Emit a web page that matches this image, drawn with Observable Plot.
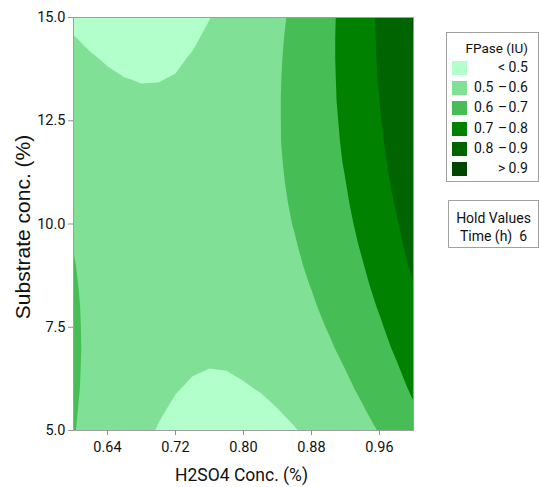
<!DOCTYPE html>
<html>
<head>
<meta charset="utf-8">
<script src="https://cdn.jsdelivr.net/npm/d3@7"></script>
<script src="https://cdn.jsdelivr.net/npm/@observablehq/plot@0.6"></script>
<style>
  body { margin: 0; background: #fff; font-family: Roboto, sans-serif; color: #111; }
  #wrap { position: relative; width: 539px; height: 487px; overflow: hidden; }
  #chart { position: absolute; left: 0; top: 0; }
  .box { position: absolute; border: 1px solid #a0a0a0; box-sizing: border-box; background: #fff; font-size: 14px; line-height: 1; }
  .box span { position: absolute; white-space: nowrap; }
  .sw { position: absolute; width: 15px; height: 14px; }
</style>
</head>
<body>
<div id="wrap"><div id="chart"></div></div>
<script>
// ---- data ----
const xLabel = "H2SO4 Conc. (%)";
const yLabel = "Substrate conc. (%)";
const xTicks = [0.64, 0.72, 0.80, 0.88, 0.96];
const yTicks = [5.0, 7.5, 10.0, 12.5, 15.0];
// sample positions of the surface grid
const xSamples = [0.60,0.62,0.64,0.66,0.68,0.70,0.72,0.74,0.76,0.78,0.80,0.82,0.84,0.86,0.88,0.90,0.92,0.94,0.96,0.98,1.00];
const ySamples = [5,5.5,6,6.5,7,7.5,8,8.5,9,9.5,10,10.5,11,11.5,12,12.5,13,13.5,14,14.5,15];
// FPase (IU) surface, one row per ySample (bottom to top), one value per xSample
const fpase = [
  [0.604,0.576,0.552,0.530,0.512,0.497,0.486,0.477,0.472,0.471,0.472,0.477,0.486,0.497,0.512,0.530,0.552,0.576,0.604,0.636,0.670],
  [0.607,0.580,0.556,0.536,0.519,0.505,0.494,0.487,0.483,0.482,0.484,0.490,0.499,0.512,0.528,0.547,0.569,0.595,0.624,0.656,0.691],
  [0.610,0.583,0.560,0.541,0.524,0.511,0.502,0.495,0.492,0.492,0.496,0.502,0.512,0.526,0.542,0.562,0.586,0.612,0.642,0.675,0.712],
  [0.611,0.585,0.563,0.545,0.529,0.517,0.508,0.503,0.500,0.501,0.506,0.513,0.524,0.539,0.556,0.577,0.601,0.629,0.659,0.693,0.731],
  [0.611,0.587,0.565,0.548,0.533,0.522,0.514,0.509,0.508,0.510,0.515,0.524,0.535,0.551,0.569,0.591,0.616,0.644,0.676,0.711,0.749],
  [0.610,0.587,0.567,0.550,0.536,0.526,0.519,0.515,0.514,0.517,0.523,0.533,0.546,0.562,0.581,0.604,0.630,0.659,0.691,0.727,0.766],
  [0.609,0.586,0.567,0.551,0.538,0.529,0.522,0.520,0.520,0.524,0.531,0.541,0.555,0.572,0.592,0.616,0.642,0.673,0.706,0.743,0.783],
  [0.606,0.585,0.566,0.551,0.539,0.531,0.525,0.523,0.525,0.529,0.537,0.549,0.563,0.581,0.602,0.627,0.654,0.685,0.720,0.757,0.798],
  [0.603,0.582,0.564,0.550,0.539,0.532,0.527,0.526,0.528,0.534,0.543,0.555,0.570,0.589,0.611,0.637,0.665,0.697,0.732,0.771,0.813],
  [0.598,0.578,0.562,0.548,0.538,0.532,0.528,0.528,0.531,0.538,0.547,0.560,0.577,0.596,0.619,0.646,0.675,0.708,0.744,0.784,0.826],
  [0.593,0.574,0.558,0.546,0.537,0.531,0.528,0.529,0.533,0.540,0.551,0.565,0.582,0.603,0.627,0.654,0.684,0.718,0.755,0.795,0.839],
  [0.587,0.569,0.554,0.542,0.534,0.529,0.527,0.529,0.534,0.542,0.554,0.569,0.587,0.608,0.633,0.661,0.692,0.727,0.765,0.806,0.851],
  [0.579,0.562,0.548,0.538,0.530,0.526,0.525,0.528,0.534,0.543,0.555,0.571,0.590,0.613,0.638,0.667,0.699,0.735,0.774,0.816,0.861],
  [0.571,0.555,0.542,0.532,0.526,0.523,0.523,0.526,0.533,0.543,0.556,0.573,0.593,0.616,0.643,0.673,0.706,0.742,0.782,0.825,0.871],
  [0.562,0.547,0.535,0.526,0.520,0.518,0.519,0.523,0.531,0.542,0.556,0.574,0.595,0.619,0.646,0.677,0.711,0.748,0.789,0.833,0.880],
  [0.552,0.538,0.526,0.518,0.514,0.512,0.514,0.520,0.528,0.540,0.555,0.574,0.595,0.620,0.649,0.680,0.715,0.754,0.795,0.840,0.888],
  [0.541,0.527,0.517,0.510,0.506,0.506,0.509,0.515,0.524,0.537,0.553,0.572,0.595,0.621,0.650,0.683,0.719,0.758,0.800,0.846,0.892],
  [0.529,0.516,0.507,0.501,0.4985,0.499,0.502,0.509,0.520,0.533,0.550,0.570,0.594,0.621,0.651,0.684,0.721,0.761,0.805,0.851,0.893],
  [0.516,0.504,0.496,0.491,0.489,0.490,0.495,0.503,0.514,0.528,0.546,0.567,0.592,0.620,0.651,0.685,0.723,0.764,0.808,0.855,0.898],
  [0.502,0.492,0.484,0.480,0.478,0.481,0.486,0.495,0.507,0.523,0.541,0.564,0.589,0.618,0.649,0.685,0.723,0.765,0.810,0.859,0.901],
  [0.488,0.478,0.471,0.467,0.467,0.470,0.477,0.487,0.499,0.516,0.536,0.559,0.585,0.614,0.647,0.683,0.723,0.766,0.812,0.861,0.904]
];
const thresholds = [0.5, 0.6, 0.7, 0.8, 0.9];
const colors = ["#b3ffcc", "#80e095", "#47be55", "#008200", "#006400", "#004600"];
const legendTitle = "FPase (IU)";
const legendLo = ["", "0.5", "0.6", "0.7", "0.8", ""];
const legendMid = ["<", "–", "–", "–", "–", ">"];
const legendHi = ["0.5", "0.6", "0.7", "0.8", "0.9", "0.9"];
const holdTitle = "Hold Values";
const holdVar = "Time (h)";
const holdValue = "6";

// ---- grid geometry (cell centres on the sample positions) ----
const nx = xSamples.length, ny = ySamples.length;
const dxs = xSamples[1] - xSamples[0], dys = ySamples[1] - ySamples[0];
const grid = fpase.flat();

const chart = Plot.plot({
  width: 430,
  height: 487,
  marginLeft: 73,
  marginRight: 17,
  marginTop: 17,
  marginBottom: 57,
  style: { fontFamily: "Roboto, sans-serif", fontSize: "14.5px", color: "#111", background: "white" },
  x: { domain: [0.6, 1.0] },
  y: { domain: [5, 15] },
  color: { type: "threshold", domain: thresholds, range: colors },
  marks: [
    Plot.frame({ fill: colors[0] }),
    Plot.contour(grid, {
      width: nx, height: ny,
      x1: xSamples[0] - dxs / 2, x2: xSamples[nx - 1] + dxs / 2,
      y1: ySamples[0] - dys / 2, y2: ySamples[ny - 1] + dys / 2,
      fill: Plot.identity, thresholds, stroke: "none", clip: true
    }),
    Plot.frame({ stroke: "#a0a0a0" }),
    Plot.axisX({ ticks: xTicks, tickFormat: d3.format(".2f"), tickSize: 5, tickPadding: 6, stroke: "#909090", label: null }),
    Plot.axisY({ ticks: yTicks, tickFormat: d3.format(".1f"), tickSize: 5, tickPadding: 3, stroke: "#909090", label: null }),
    Plot.text([xLabel], { text: d => d, frameAnchor: "bottom", textAnchor: "middle", lineAnchor: "middle", dx: -2, dy: 45, fontSize: 17.5, fill: "#111" }),
    Plot.text([yLabel], { text: d => d, frameAnchor: "left", textAnchor: "middle", lineAnchor: "middle", dx: -50, dy: 3, rotate: -90, fontSize: 21, fontFamily: "'Liberation Sans', Arial, sans-serif", fill: "#111" })
  ]
});
document.getElementById("chart").appendChild(chart);

// ---- legend boxes ----
const wrap = document.getElementById("wrap");
const lg = document.createElement("div");
lg.className = "box";
Object.assign(lg.style, { left: "446px", top: "32px", width: "93px", height: "150px" });
let html = `<span style="right:10px;top:9px;font-size:13.5px">${legendTitle}</span>`;
colors.forEach((c, i) => {
  const cy = 35 + i * 20.2;
  html += `<div class="sw" style="left:5px;top:${cy - 7}px;background:${c}"></div>`;
  if (legendLo[i]) html += `<span style="left:27px;top:${cy - 8}px">${legendLo[i]}</span>`;
  html += `<span style="left:51px;top:${cy - 8}px">${legendMid[i]}</span>`;
  html += `<span style="right:10px;top:${cy - 8}px">${legendHi[i]}</span>`;
});
lg.innerHTML = html;
wrap.appendChild(lg);

const hv = document.createElement("div");
hv.className = "box";
Object.assign(hv.style, { left: "448px", top: "200px", width: "91px", height: "48px" });
hv.innerHTML = `<div style="position:absolute;left:0;right:0;top:10px;text-align:center">${holdTitle}</div>
<div style="position:absolute;left:0;right:0;top:28px;text-align:center">${holdVar}&nbsp;&nbsp;${holdValue}</div>`;
wrap.appendChild(hv);
</script>
</body>
</html>
